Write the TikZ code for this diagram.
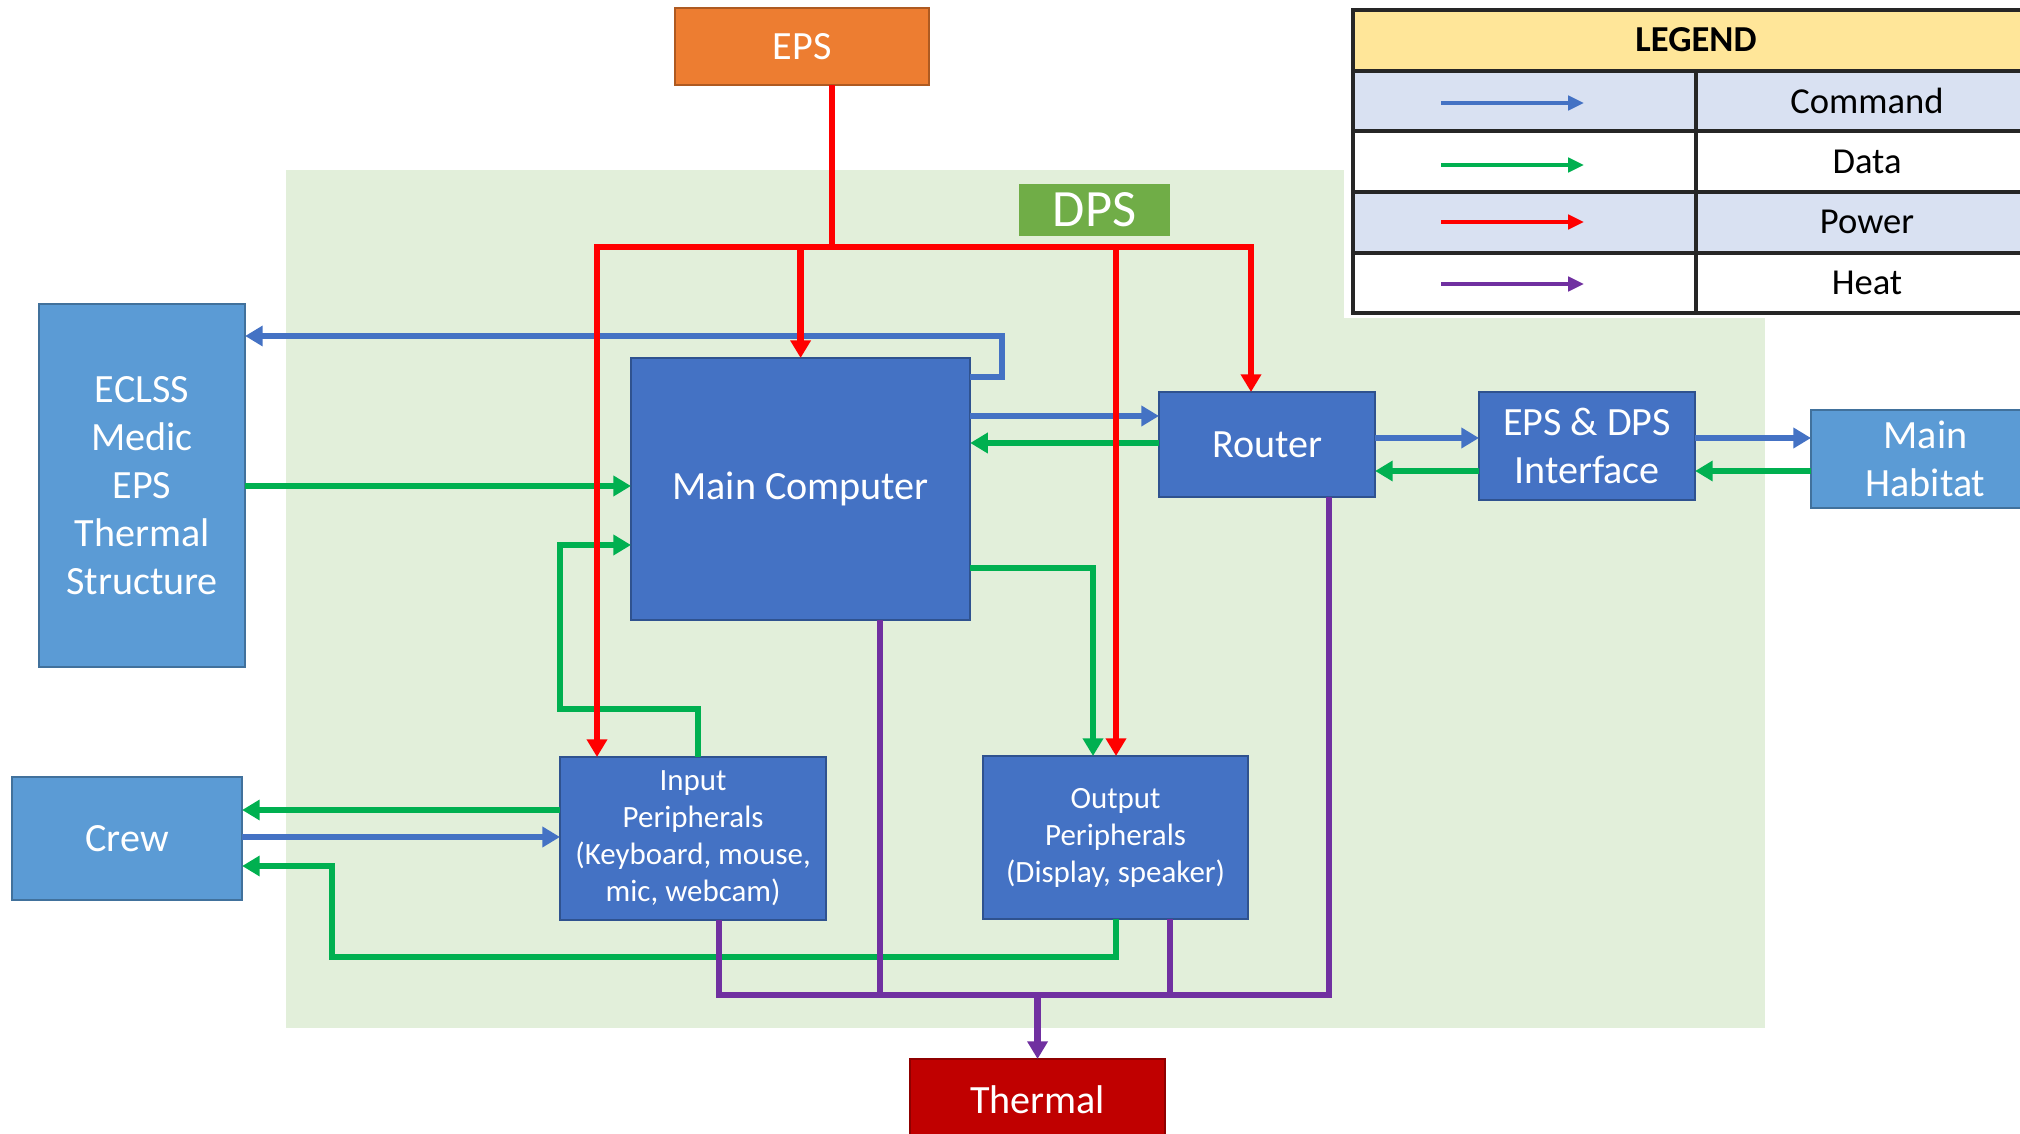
\documentclass[tikz,border=0pt]{standalone}
\usepackage{fontspec}
\setmainfont{Carlito}
\usetikzlibrary{arrows.meta,calc}
\definecolor{cmdc}{HTML}{4472C4}
\definecolor{datc}{HTML}{00B050}
\definecolor{powc}{HTML}{FF0000}
\definecolor{heatc}{HTML}{7030A0}
\definecolor{boxc}{HTML}{4472C4}
\definecolor{boxd}{HTML}{2F528F}
\definecolor{lboxc}{HTML}{5B9BD5}
\definecolor{lboxd}{HTML}{41719C}
\definecolor{epsc}{HTML}{ED7D31}
\definecolor{epsd}{HTML}{AE5A21}
\definecolor{thc}{HTML}{C00000}
\definecolor{thd}{HTML}{8F0000}
\definecolor{bgc}{HTML}{E2EFDA}
\definecolor{dpsc}{HTML}{70AD47}
\definecolor{legh}{HTML}{FFE699}
\definecolor{legr}{HTML}{D9E1F2}
\definecolor{legl}{HTML}{262626}
\tikzset{
  blk/.style={draw=boxd, line width=0.6pt, fill=boxc, text=white, inner sep=0pt, outer sep=0pt,
    align=center, anchor=north west, font=\fontsize{11.4}{13.7}\selectfont},
  lblk/.style={blk, fill=lboxc, draw=lboxd},
  smalltxt/.style={font=\fontsize{8.8}{10.5}\selectfont},
  wire/.style={line width=1.9pt, line join=miter},
  cmd/.style={wire, draw=cmdc},
  dat/.style={wire, draw=datc},
  pow/.style={wire, draw=powc},
  heat/.style={wire, draw=heatc, line width=1.7pt},
  arr/.style={-{Triangle[length=5pt,width=5.6pt]}},
  legarr/.style={line width=1.3pt, -{Triangle[length=4.5pt,width=4pt]}},
  legline/.style={draw=legl, line width=0.9pt},
  legtxt/.style={font=\fontsize{10.4}{12}\selectfont, text=black, inner sep=0pt},
}
\begin{document}
\begin{tikzpicture}[x=0.01cm, y=-0.01cm]
\useasboundingbox (0,0) rectangle (2020,1134);
\clip (0,0) rectangle (2020,1134);

% DPS background
\fill[bgc] (286,170) rectangle (1765,1028);

% Legend
\fill[white] (1344,160) rectangle (2030,318);
\fill[legh] (1353,10) rectangle (2040,71);
\fill[legr] (1353,71) rectangle (2040,131);
\fill[white] (1353,131) rectangle (2040,192);
\fill[legr] (1353,192) rectangle (2040,253);
\fill[white] (1353,253) rectangle (2040,313);
\draw[legline] (2040,10) -- (1353,10) -- (1353,313) -- (2040,313);
\foreach \yy in {71,131,192,253} \draw[legline] (1353,\yy) -- (2040,\yy);
\draw[legline] (1696,71) -- (1696,313);
\node[legtxt, font=\fontsize{10.4}{12}\selectfont\bfseries] (lgh) at (1696,40) {LEGEND};
\node[legtxt] (lg1) at (1867,101) {Command};
\node[legtxt] (lg2) at (1867,162) {Data};
\node[legtxt] (lg3) at (1867,222) {Power};
\node[legtxt] (lg4) at (1867,283) {Heat};
\coordinate (la1) at (1441,103); \coordinate (lb1) at (1584,103);
\coordinate (la2) at (1441,165); \coordinate (lb2) at (1584,165);
\coordinate (la3) at (1441,222); \coordinate (lb3) at (1584,222);
\coordinate (la4) at (1441,284); \coordinate (lb4) at (1584,284);
\draw[legarr, draw=cmdc, fill=cmdc] (la1) -- (lb1);
\draw[legarr, draw=datc, fill=datc] (la2) -- (lb2);
\draw[legarr, draw=powc, fill=powc] (la3) -- (lb3);
\draw[legarr, draw=heatc, fill=heatc] (la4) -- (lb4);

% Boxes
\node[blk, fill=epsc, draw=epsd, minimum width=2.54cm, minimum height=0.77cm] (eps) at (675,8) {EPS};
\node[blk, fill=dpsc, draw=none, minimum width=1.51cm, minimum height=0.52cm, font=\fontsize{14.9}{16}\selectfont] (dps) at (1019,184) {DPS};
\node[lblk, minimum width=2.06cm, minimum height=3.63cm] (eclss) at (39,304) {ECLSS\\Medic\\EPS\\Thermal\\Structure};
\node[blk, minimum width=3.39cm, minimum height=2.62cm] (mc) at (631,358) {Main Computer};
\node[blk, minimum width=2.16cm, minimum height=1.05cm] (router) at (1159,392) {Router};
\node[blk, minimum width=2.16cm, minimum height=1.08cm] (iface) at (1479,392) {EPS \& DPS\\Interface};
\node[lblk, minimum width=2.29cm, minimum height=0.98cm] (hab) at (1811,410) {Main\\Habitat};
\node[lblk, minimum width=2.30cm, minimum height=1.23cm] (crew) at (12,777) {Crew};
\node[blk, smalltxt, minimum width=2.66cm, minimum height=1.63cm] (inp) at (560,757) {Input\\Peripherals\\(Keyboard, mouse,\\mic, webcam)};
\node[blk, smalltxt, minimum width=2.65cm, minimum height=1.63cm] (outp) at (983,756) {Output\\Peripherals\\(Display, speaker)};
\node[blk, fill=thc, draw=thd, minimum width=2.55cm, minimum height=0.81cm] (thermal) at (910,1059) {Thermal};

% Level coordinates
\coordinate (c1) at (1002,336);
\coordinate (c0) at (0,377);
\coordinate (y416) at (0,416);
\coordinate (y438) at (0,438);
\coordinate (y443) at (0,443);
\coordinate (y471) at (0,471);
\coordinate (y486) at (0,486);
\coordinate (y810) at (0,810);
\coordinate (y837) at (0,837);

% Command (blue)
\draw[cmd, arr] (mc.east |- c0) -| (c1) -- (c1 -| eclss.east);
\draw[cmd, arr] (mc.east |- y416) -- (router.west |- y416);
\draw[cmd, arr] (router.east |- y438) -- (iface.west |- y438);
\draw[cmd, arr] (iface.east |- y438) -- (hab.west |- y438);
\draw[cmd, arr] (crew.east |- y837) -- (inp.west |- y837);

% Data (green)
\draw[dat, arr] (router.west |- y443) -- (mc.east |- y443);
\draw[dat, arr] (iface.west |- y471) -- (router.east |- y471);
\draw[dat, arr] (hab.west |- y471) -- (iface.east |- y471);
\draw[dat, arr] (eclss.east |- y486) -- (mc.west |- y486);
\coordinate (g1) at (698,709);
\coordinate (g2) at (560,545);
\draw[dat, arr] (inp.north -| g1) -- (g1) -| (g2) -- (g2 -| mc.west);
\coordinate (g3) at (1093,568);
\draw[dat, arr] (mc.east |- g3) -- (g3) -- (g3 |- outp.north);
\draw[dat, arr] (inp.west |- y810) -- (crew.east |- y810);
\coordinate (g4) at (1116,957);
\coordinate (g5) at (332,866);
\draw[dat, arr] (outp.south -| g4) -- (g4) -| (g5) -- (g5 -| crew.east);

% Heat (purple)
\coordinate (h1) at (719,995);
\coordinate (h2) at (1329,995);
\coordinate (h3) at (880,995);
\coordinate (h4) at (1170,995);
\draw[heat] (inp.south -| h1) -- (h1) -- (h2) -- (router.south -| h2);
\draw[heat] (mc.south -| h3) -- (h3);
\draw[heat] (outp.south -| h4) -- (h4);
\draw[heat, line width=2.2pt, arr] (thermal.north |- h1) -- (thermal.north);

% Power (red)
\coordinate (pL) at (597,247);
\coordinate (pR) at (1251,247);
\coordinate (pE) at (832,247);
\coordinate (pO) at (1116,247);
\draw[pow] (eps.south -| pE) -- (pE);
\draw[pow, {Triangle[length=5pt,width=5.6pt]}-{Triangle[length=5pt,width=5.6pt]}] (pL |- inp.north) -- (pL) -- (pR) -- (pR |- router.north);
\draw[pow, arr] (mc.north |- pL) -- (mc.north);
\draw[pow, arr] (pO) -- (pO |- outp.north);
\end{tikzpicture}
\end{document}
